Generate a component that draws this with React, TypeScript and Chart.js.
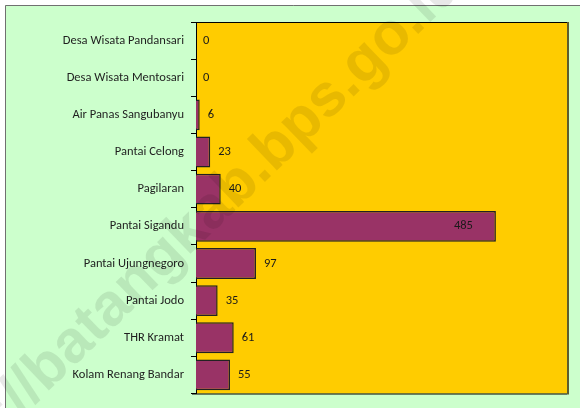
import React, { useEffect, useRef } from "react";
import { Chart, registerables } from "chart.js";

Chart.register(...registerables);

const categories = [
  "Desa Wisata Pandansari",
  "Desa Wisata Mentosari",
  "Air Panas Sangubanyu",
  "Pantai Celong",
  "Pagilaran",
  "Pantai Sigandu",
  "Pantai Ujungnegoro",
  "Pantai Jodo",
  "THR Kramat",
  "Kolam Renang Bandar",
];
const values = [0, 0, 6, 23, 40, 485, 97, 35, 61, 55];
const xMin = 0;
const xMax = 600;
const watermarkText = "https://batangkab.bps.go.id";

const FONT = "Calibri, Carlito, Lato, 'Noto Sans', sans-serif";

const backgroundPlugin = {
  id: "bgPlugin",
  beforeDraw(chart: any) {
    const { ctx, width, height, chartArea } = chart;
    ctx.save();
    ctx.fillStyle = "#ffffff";
    ctx.fillRect(0, 0, width, height);
    ctx.fillStyle = "#ccffcc";
    ctx.fillRect(5, 5, width, height);
    ctx.strokeStyle = "#707070";
    ctx.lineWidth = 1;
    ctx.beginPath();
    ctx.moveTo(5.5, height + 5);
    ctx.lineTo(5.5, 5.5);
    ctx.lineTo(width + 5, 5.5);
    ctx.stroke();
    ctx.fillStyle = "#ffcc00";
    ctx.fillRect(chartArea.left, chartArea.top, chartArea.right - chartArea.left, chartArea.bottom - chartArea.top);
    ctx.restore();
  },
};

const frameAndLabelsPlugin = {
  id: "frameAndLabels",
  afterDatasetsDraw(chart: any) {
    const { ctx, chartArea } = chart;
    const { left, top, right, bottom } = chartArea;
    ctx.save();
    ctx.strokeStyle = "#000000";
    ctx.lineWidth = 1;
    ctx.beginPath();
    ctx.moveTo(left, top + 0.5);
    ctx.lineTo(right, top + 0.5);
    ctx.moveTo(left - 4, bottom + 0.5);
    ctx.lineTo(right, bottom + 0.5);
    ctx.stroke();
    ctx.strokeStyle = "#5c5c2e";
    ctx.lineWidth = 2;
    ctx.beginPath();
    ctx.moveTo(right + 1, top);
    ctx.lineTo(right + 1, bottom + 1);
    ctx.stroke();

    const meta = chart.getDatasetMeta(0);
    ctx.font = `12.5px ${FONT}`;
    ctx.fillStyle = "#1a1a1a";
    ctx.textBaseline = "middle";
    meta.data.forEach((el: any, i: number) => {
      const v = values[i];
      const txt = String(v);
      if (v > xMax * 0.5) {
        ctx.textAlign = "right";
        ctx.fillText(txt, el.x - 23, el.y);
      } else {
        ctx.textAlign = "left";
        ctx.fillText(txt, el.x + (v === 0 ? 7 : 8), el.y);
      }
    });
    ctx.restore();
  },
};

const watermarkPlugin = {
  id: "watermark",
  afterDraw(chart: any) {
    const { ctx } = chart;
    const size = 60;
    const angle = (44 * Math.PI) / 180;
    ctx.save();
    ctx.font = `bold ${size}px 'Liberation Sans', Arial, sans-serif`;
    ctx.fillStyle = "rgba(0,0,0,0.09)";
    ctx.textAlign = "left";
    ctx.textBaseline = "alphabetic";
    const prefixW = ctx.measureText("https://batangkab").width;
    const dotW = ctx.measureText(".").width;
    ctx.translate(265, 176);
    ctx.rotate(-angle);
    ctx.fillText(watermarkText, -(prefixW + dotW / 2), size * 0.07);
    ctx.restore();
  },
};

export default function App() {
  const canvasRef = useRef<HTMLCanvasElement | null>(null);

  useEffect(() => {
    if (!canvasRef.current) return;
    const chart = new Chart(canvasRef.current, {
      type: "bar",
      data: {
        labels: categories,
        datasets: [
          {
            data: values,
            backgroundColor: "#993366",
            borderColor: "#222222",
            borderWidth: 1.5,
            borderSkipped: "start",
            barPercentage: 0.83,
            categoryPercentage: 1,
          },
        ],
      },
      options: {
        indexAxis: "y",
        responsive: false,
        animation: false,
        devicePixelRatio: 1,
        layout: { padding: { top: 22, right: 13, bottom: 13, left: 0 } },
        plugins: {
          legend: { display: false },
          tooltip: { enabled: false },
          title: { display: false },
        },
        scales: {
          x: {
            display: false,
            min: xMin,
            max: xMax,
          },
          y: {
            afterFit: (scale: any) => {
              scale.width = 196;
            },
            grid: {
              offset: true,
              drawOnChartArea: false,
              drawTicks: true,
              tickLength: 5,
              color: "#000000",
              lineWidth: 1,
            },
            border: { display: true, color: "#000000", width: 1 },
            ticks: {
              padding: 7,
              color: "#1f1f1f",
              font: { family: FONT, size: 12.5 },
            },
          },
        },
      },
      plugins: [backgroundPlugin, frameAndLabelsPlugin, watermarkPlugin],
    });
    return () => chart.destroy();
  }, []);

  return (
    <div style={{ position: "fixed", left: 0, top: 0, width: 580, height: 408 }}>
      <canvas ref={canvasRef} width={580} height={408} style={{ display: "block" }} />
    </div>
  );
}
